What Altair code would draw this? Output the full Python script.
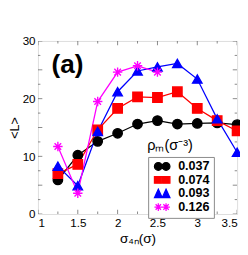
import altair as alt
import pandas as pd

# ---- data ----
x_vals = [1.25, 1.5, 1.75, 2.0, 2.25, 2.5, 2.75, 3.0, 3.25, 3.5]
l_037 = [5.9, 10.2, 12.6, 14.0, 15.6, 16.2, 15.6, 15.7, 15.8, 15.5]
l_074 = [7.0, 8.6, 14.6, 18.3, 20.3, 20.2, 21.2, 18.3, 16.2, 14.4]
l_093 = [8.3, 4.9, 14.3, 21.2, 24.8, 25.5, 26.1, 23.4, 16.5, 10.7]
x_126 = [1.25, 1.5, 1.75, 2.0, 2.25, 2.5]
l_126 = [11.7, 3.6, 19.5, 24.6, 25.7, 24.6]
rho_labels = ["0.037", "0.074", "0.093", "0.126"]
colors = ["#000000", "#ff0000", "#0000ff", "#ff00ff"]

x_major = [1.0, 1.5, 2.0, 2.5, 3.0, 3.5]
x_minor = [1.25, 1.75, 2.25, 2.75, 3.25]
y_major = [0, 5, 10, 15, 20, 25, 30]
y_minor = [2.5, 7.5, 12.5, 17.5, 22.5, 27.5]
panel_label = ["(a)"]
legend_title = ["\u03c1\u2098(\u03c3\u207b\u00b3)"]

FONT = "Liberation Sans"

rows = []
for lab, xs, ys in [(rho_labels[0], x_vals, l_037), (rho_labels[1], x_vals, l_074),
                    (rho_labels[2], x_vals, l_093), (rho_labels[3], x_126, l_126)]:
    for i, (xv, yv) in enumerate(zip(xs, ys)):
        rows.append({"x": xv, "y": yv, "rho": lab, "i": i})
df = pd.DataFrame(rows)

asterisk = "M-1,0H1M0,-1V1M-0.7,-0.7L0.7,0.7M-0.7,0.7L0.7,-0.7"
shapes_single = ["circle", "square", "triangle-up", asterisk]
sizes_single = [95, 95, 120, 160]
# doubled legend symbols, drawn in a box x in [-1, 3], y in [-1, 1]
shapes_double = [
    "M-1,0A1,1,0,1,1,1,0A1,1,0,1,1,-1,0ZM1,0A1,1,0,1,1,3,0A1,1,0,1,1,1,0Z",
    "M-1,-0.85H0.9V0.85H-1ZM1.1,-0.85H3V0.85H1.1Z",
    "M-1,1.1L0,-1.1L1,1.1ZM1,1.1L2,-1.1L3,1.1Z",
    "M-1,0H1M0,-1V1M-0.7,-0.7L0.7,0.7M-0.7,0.7L0.7,-0.7"
    "M1,0H3M2,-1V1M1.3,-0.7L2.7,0.7M1.3,0.7L2.7,-0.7",
]

xs = alt.Scale(domain=[1, 3.5], nice=False, zero=False)
ys = alt.Scale(domain=[0, 30], nice=False, zero=False)

X = alt.X("x:Q", scale=xs, axis=alt.Axis(
    values=x_major, format="~g", title="\u03c3\u2084\u2099(\u03c3)", ticks=False, domain=False,
    grid=False, labelFont=FONT, labelFontSize=12, labelColor="#000", labelPadding=4,
    titleFont=FONT, titleFontSize=14, titleFontWeight="normal", titleColor="#000", titlePadding=3))
Y = alt.Y("y:Q", scale=ys, axis=alt.Axis(
    values=y_major, title="<L>", ticks=False, domain=False, grid=False,
    labelFont=FONT, labelFontSize=12, labelColor="#000", labelPadding=3,
    titleFont=FONT, titleFontSize=13, titleFontWeight="normal", titleColor="#000", titlePadding=1))

cscale = alt.Scale(domain=rho_labels, range=colors)

lines = alt.Chart(df).mark_line(strokeWidth=1.3).encode(
    x=X, y=Y,
    stroke=alt.Stroke("rho:N", scale=cscale, legend=None),
    detail="rho:N", order="i:Q")

points = alt.Chart(df).mark_point(opacity=1, fillOpacity=1, strokeWidth=1.4).encode(
    x="x:Q", y="y:Q",
    shape=alt.Shape("rho:N", scale=alt.Scale(domain=rho_labels, range=shapes_single), legend=None),
    fill=alt.Fill("rho:N", scale=cscale, legend=None),
    stroke=alt.Stroke("rho:N", scale=cscale, legend=None),
    size=alt.Size("rho:N", scale=alt.Scale(domain=rho_labels, range=sizes_single), legend=None))

leg = alt.Legend(orient="none", legendX=114, legendY=120, title=None,
                 strokeColor="#888", fillColor="white", padding=4,
                 symbolSize=64, symbolStrokeWidth=1.3, symbolOpacity=1,
                 labelFont=FONT, labelFontSize=13, labelFontWeight="bold", labelColor="#000",
                 labelOffset=14, rowPadding=0, clipHeight=11.5)
legend_layer = alt.Chart(df).mark_point(size=0, opacity=0).encode(
    x="x:Q", y="y:Q",
    shape=alt.Shape("rho:N", scale=alt.Scale(domain=rho_labels, range=shapes_double), legend=leg),
    fill=alt.Fill("rho:N", scale=alt.Scale(domain=rho_labels, range=colors), legend=leg),
    stroke=alt.Stroke("rho:N", scale=alt.Scale(domain=rho_labels, range=colors), legend=leg))

tick_color = "#555"
def vticks(vals, yv, size):
    return alt.Chart(pd.DataFrame({"t": vals})).mark_tick(
        clip=True, orient="vertical", size=size, thickness=1, color=tick_color).encode(
        x="t:Q", y=alt.datum(yv))

def hticks(vals, xv, size):
    return alt.Chart(pd.DataFrame({"t": vals})).mark_tick(
        clip=True, orient="horizontal", size=size, thickness=1, color=tick_color).encode(
        y="t:Q", x=alt.datum(xv))

ticks = [vticks(x_major, 0, 9), vticks(x_minor, 0, 5), vticks(x_major, 30, 9), vticks(x_minor, 30, 5),
         hticks(y_major, 1, 9), hticks(y_minor, 1, 5), hticks(y_major, 3.5, 9), hticks(y_minor, 3.5, 5)]

label_a = alt.Chart(pd.DataFrame({"t": panel_label})).mark_text(
    font=FONT, fontSize=27, fontWeight="bold", align="left", baseline="middle", color="#000").encode(
    text="t:N", x=alt.value(14), y=alt.value(25))

leg_title = alt.Chart(pd.DataFrame({"t": legend_title})).mark_text(
    font=FONT, fontSize=15, align="left", baseline="alphabetic", color="#000").encode(
    text="t:N", x=alt.value(113), y=alt.value(113))

chart = alt.layer(*ticks, lines, points, legend_layer, label_a, leg_title).resolve_scale(
    shape="independent", fill="independent", stroke="independent", size="independent"
).resolve_legend(shape="independent", fill="independent", stroke="independent").properties(
    width=206, height=179,
    autosize=alt.AutoSizeParams(type="none"),
    padding={"left": 31, "top": 30, "right": 3, "bottom": 30},
).configure_view(stroke="#444", strokeWidth=1).configure(background="white")

chart.save("out.html", embed_options={"renderer": "svg", "actions": False})
